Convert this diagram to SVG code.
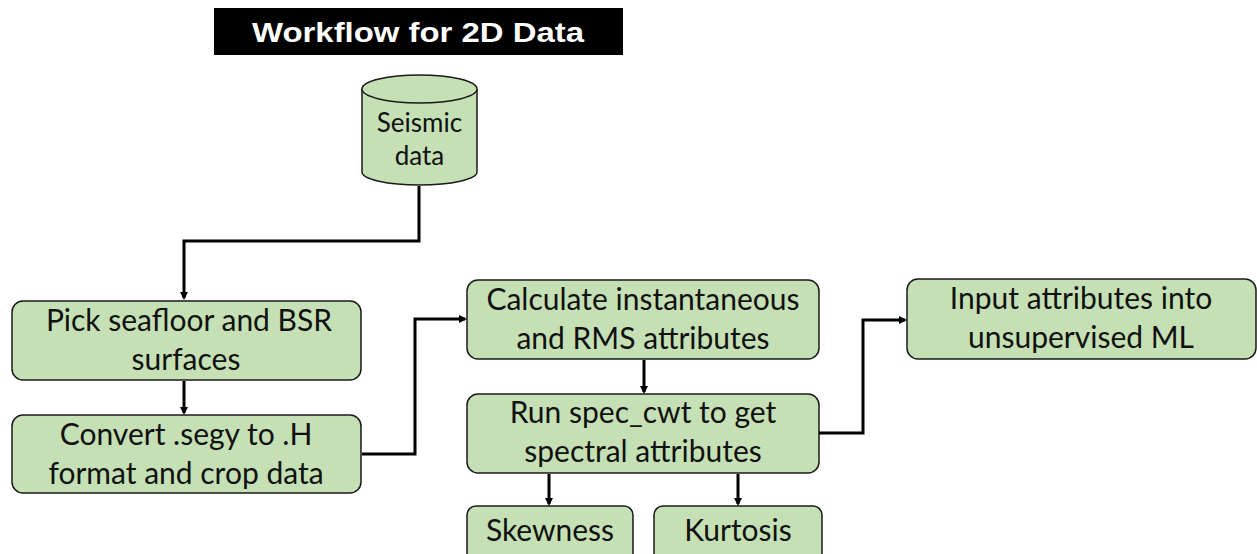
<svg xmlns="http://www.w3.org/2000/svg" width="1257" height="554" viewBox="0 0 1257 554">
<style>
.box{fill:#c5e0b4;stroke:#1a1a1a;stroke-width:1.5}
.lbl{font-family:Lato,"Open Sans","Liberation Sans",sans-serif;font-size:30px;fill:#111;text-anchor:middle}
.lbl.sm{font-size:26px}
.conn{fill:none;stroke:#000;stroke-width:3}
</style>
<defs>
<marker id="arr" markerWidth="8" markerHeight="8" refX="6" refY="4" orient="auto" markerUnits="userSpaceOnUse">
<path d="M0,0 L8,4 L0,8 Z" fill="#000"/>
</marker>
</defs>
<rect width="1257" height="554" fill="#fff"/>
<g id="title">
<rect x="214" y="8" width="409" height="47" fill="#000"/>
<text x="418" y="42" font-family="'Liberation Sans',Arial,sans-serif" font-weight="bold" font-size="28" fill="#fff" text-anchor="middle" textLength="332" lengthAdjust="spacingAndGlyphs">Workflow for 2D Data</text>
</g>
<g id="seismic">
<path class="box" d="M362,89 L362,172 A57.5,13 0 0 0 477,172 L477,89"/>
<ellipse class="box" cx="419.5" cy="89" rx="57.5" ry="14"/>
<text class="lbl sm" x="419.5" y="132">Seismic</text>
<text class="lbl sm" x="419.5" y="165">data</text>
</g>
<g id="pick">
<rect class="box" x="12" y="301" width="349" height="79" rx="11"/>
<text class="lbl" x="189" y="331">Pick seafloor and BSR</text>
<text class="lbl" x="186" y="370">surfaces</text>
</g>
<g id="convert">
<rect class="box" x="12" y="415" width="349" height="78" rx="11"/>
<text class="lbl" x="186" y="445">Convert .segy to .H</text>
<text class="lbl" x="186" y="484">format and crop data</text>
</g>
<g id="calculate">
<rect class="box" x="467" y="280" width="352" height="79" rx="11"/>
<text class="lbl" x="643" y="310">Calculate instantaneous</text>
<text class="lbl" x="643" y="349">and RMS attributes</text>
</g>
<g id="spec">
<rect class="box" x="467" y="394" width="352" height="79" rx="11"/>
<text class="lbl" x="643" y="423">Run spec_cwt to get</text>
<text class="lbl" x="643" y="462">spectral attributes</text>
</g>
<g id="skewness">
<rect class="box" x="467" y="506" width="166" height="60" rx="9"/>
<text class="lbl" x="550" y="541">Skewness</text>
</g>
<g id="kurtosis">
<rect class="box" x="654" y="506" width="168" height="60" rx="9"/>
<text class="lbl" x="738" y="541">Kurtosis</text>
</g>
<g id="input">
<rect class="box" x="907" y="279" width="349" height="80" rx="11"/>
<text class="lbl" x="1081" y="309">Input attributes into</text>
<text class="lbl" x="1081" y="348">unsupervised ML</text>
</g>
<g id="connectors">
<path class="conn" d="M419,186 V241 H184 V298" marker-end="url(#arr)"/>
<path class="conn" d="M184,381 V413" marker-end="url(#arr)"/>
<path class="conn" d="M362,454 H415 V319 H465" marker-end="url(#arr)"/>
<path class="conn" d="M644,360 V392" marker-end="url(#arr)"/>
<path class="conn" d="M549,474 V504" marker-end="url(#arr)"/>
<path class="conn" d="M738,474 V504" marker-end="url(#arr)"/>
<path class="conn" d="M819,433 H863 V320 H905" marker-end="url(#arr)"/>
</g>
</svg>
